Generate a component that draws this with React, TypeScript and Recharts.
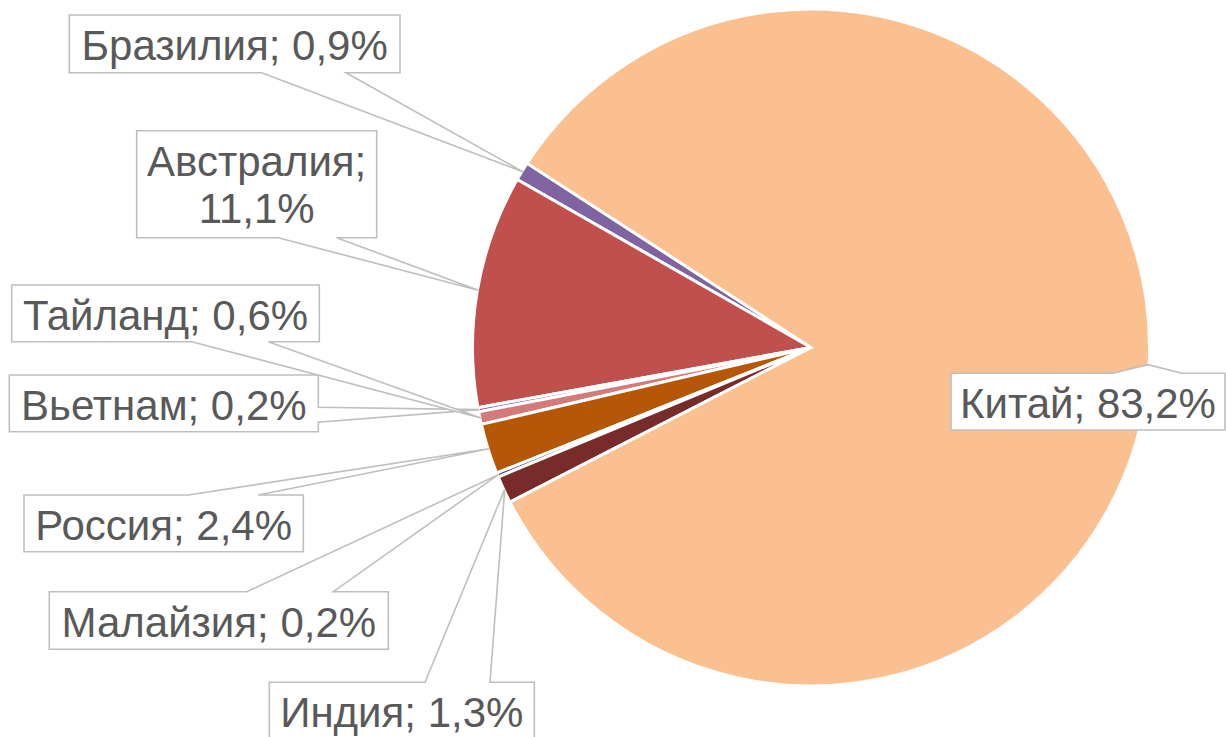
import React from 'react';
import { PieChart, Pie, Cell } from 'recharts';

// ---- data ----
const countries = ['Бразилия', 'Австралия', 'Вьетнам', 'Тайланд', 'Россия', 'Малайзия', 'Индия', 'Китай'];
const shares = [0.9, 11.1, 0.2, 0.6, 2.4, 0.2, 1.3, 83.2];
const sliceColors = ['#8064A2', '#C0504D', '#7E6CC4', '#D37B7A', '#B65708', '#3B3488', '#772C2A', '#FAC090'];

// ---- callout layout (box rect, pointer side & base) ----
type Side = 'top' | 'bottom' | 'right';
const calloutBoxes: { x: number; y: number; w: number; h: number; side: Side; b1: number; b2: number; wrap?: boolean }[] = [
  { x: 69.3, y: 15, w: 330.7, h: 57.7, side: 'bottom', b1: 261.7, b2: 346 },
  { x: 136.7, y: 130.7, w: 240, h: 107, side: 'bottom', b1: 278.3, b2: 336.7, wrap: true },
  { x: 9.3, y: 375, w: 309, h: 56.7, side: 'right', b1: 407.3, b2: 422.3 },
  { x: 11.7, y: 285, w: 307.6, h: 56.7, side: 'bottom', b1: 191.7, b2: 268.3 },
  { x: 24, y: 495, w: 279.3, h: 56.7, side: 'top', b1: 188.3, b2: 258.3 },
  { x: 49.3, y: 591.7, w: 339, h: 57.6, side: 'top', b1: 246.7, b2: 333.3 },
  { x: 269.3, y: 682.3, w: 265, h: 57, side: 'top', b1: 425, b2: 490 },
  { x: 951, y: 373.3, w: 274, h: 56.7, side: 'top', b1: 1113, b2: 1181.7 },
];

const data = countries.map((name, i) => ({ name, value: shares[i] }));

const RAD = Math.PI / 180;
const FONT = 'Arial, "Liberation Sans", sans-serif';
const FS = 42;

const fmt = (v: number) => v.toFixed(1).replace('.', ',') + '%';

const renderLabel = (props: any) => {
  const { cx, cy, midAngle, outerRadius, index } = props;
  const box = calloutBoxes[index];
  if (!box) return null;
  const tx = cx + (outerRadius - 1) * Math.cos(-midAngle * RAD);
  const ty = cy + (outerRadius - 1) * Math.sin(-midAngle * RAD);
  const x1 = box.x, y1 = box.y, x2 = box.x + box.w, y2 = box.y + box.h;
  let d = '';
  if (box.side === 'bottom') {
    d = `M${x1},${y1}L${x2},${y1}L${x2},${y2}L${box.b2},${y2}L${tx},${ty}L${box.b1},${y2}L${x1},${y2}Z`;
  } else if (box.side === 'top') {
    d = `M${x1},${y1}L${box.b1},${y1}L${tx},${ty}L${box.b2},${y1}L${x2},${y1}L${x2},${y2}L${x1},${y2}Z`;
  } else {
    d = `M${x1},${y1}L${x2},${y1}L${x2},${box.b1}L${tx},${ty}L${x2},${box.b2}L${x2},${y2}L${x1},${y2}Z`;
  }
  const name = countries[index];
  const val = fmt(shares[index]);
  const mx = (x1 + x2) / 2;
  return (
    <g key={`callout-${index}`}>
      <path d={d} fill="#FFFFFF" stroke="#BFBFBF" strokeWidth={1.6} strokeLinejoin="miter" />
      {box.wrap ? (
        <text x={mx} y={y1 + 45} textAnchor="middle" fill="#595959" fontFamily={FONT} fontSize={FS}>
          <tspan x={mx} y={y1 + 45}>{name + ';'}</tspan>
          <tspan x={mx} y={y1 + 92}>{val}</tspan>
        </text>
      ) : (
        <text x={mx} y={y1 + 45} textAnchor="middle" fill="#595959" fontFamily={FONT} fontSize={FS}>
          {`${name}; ${val}`}
        </text>
      )}
    </g>
  );
};

export default function App() {
  return (
    <div style={{ position: 'absolute', left: 0, top: 0, width: 1226, height: 737, overflow: 'hidden', background: '#fff' }}>
      <PieChart width={1226} height={737} margin={{ top: 0, right: 0, bottom: 0, left: 0 }}>
        <Pie
          data={data}
          dataKey="value"
          nameKey="name"
          cx={811}
          cy={347.5}
          outerRadius={338.5}
          startAngle={147}
          endAngle={507}
          stroke="#FFFFFF"
          strokeWidth={3}
          isAnimationActive={false}
          label={renderLabel}
          labelLine={false}
        >
          {data.map((d, i) => (
            <Cell key={d.name} fill={sliceColors[i]} />
          ))}
        </Pie>
      </PieChart>
    </div>
  );
}
